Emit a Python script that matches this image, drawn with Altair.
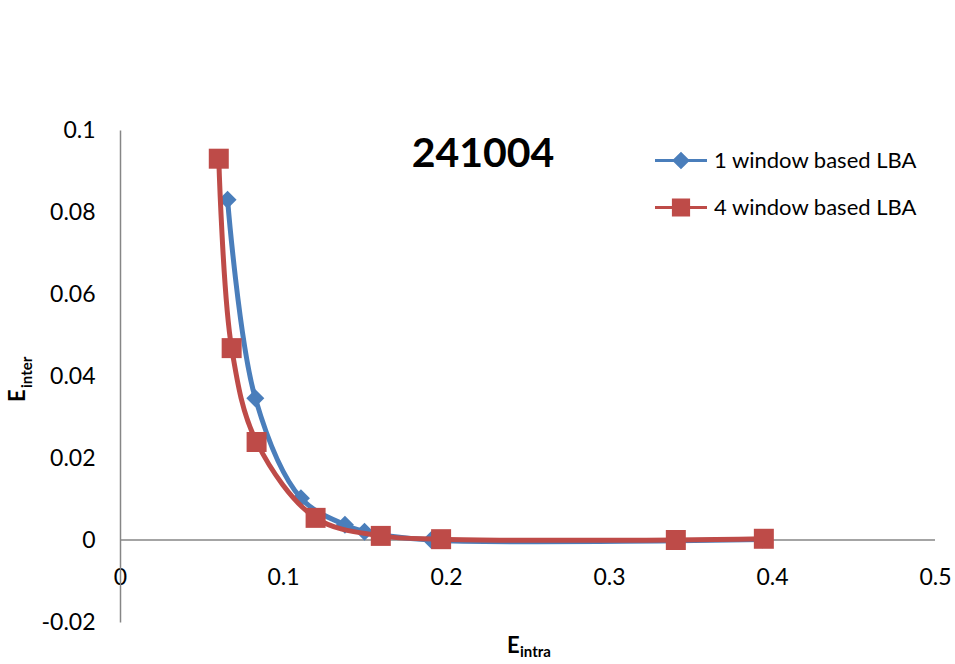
import altair as alt
import pandas as pd

# ---------------- data ----------------
series_names = ["1 window based LBA", "4 window based LBA"]
blue_x = [0.066, 0.083, 0.111, 0.138, 0.150, 0.191, 0.394]
blue_y = [0.083, 0.0346, 0.0102, 0.0037, 0.0020, 0.0000, 0.0001]
red_x = [0.0606, 0.0685, 0.0838, 0.120, 0.160, 0.197, 0.341, 0.395]
red_y = [0.093, 0.0468, 0.0239, 0.0054, 0.0010, 0.0002, 0.0000, 0.0003]
x_ticks = [0, 0.1, 0.2, 0.3, 0.4, 0.5]
y_ticks = [-0.02, 0, 0.02, 0.04, 0.06, 0.08, 0.1]
chart_title = "241004"

BLUE = "#4A7EBB"
RED = "#BE4B48"
AXIS = "#868686"
FONT = "Lato"

blue_df = pd.DataFrame({"x": blue_x, "y": blue_y, "series": series_names[0]})
red_df = pd.DataFrame({"x": red_x, "y": red_y, "series": series_names[1]})
all_df = pd.concat([blue_df, red_df], ignore_index=True)

xscale = alt.Scale(domain=[0, 0.5], nice=False, zero=False)
yscale = alt.Scale(domain=[-0.02, 0.1], nice=False, zero=False)

x_axis = alt.Axis(values=x_ticks, labelExpr="'' + datum.value", domain=False, ticks=False,
                  grid=False, offset=-56, labelPadding=0, labelFont=FONT, labelFontSize=23,
                  labelColor="black", labelFlush=False, labelOverlap=False, title=None)
y_axis = alt.Axis(values=y_ticks, labelExpr="'' + datum.value", domain=True, domainColor=AXIS,
                  domainWidth=1.5, ticks=False, grid=False, labelPadding=25, labelFont=FONT,
                  labelFontSize=23, labelColor="black", labelFlush=False, labelOverlap=False,
                  title=None)

X = alt.X("x:Q", scale=xscale, axis=x_axis)
Y = alt.Y("y:Q", scale=yscale, axis=y_axis)

zero_rule = alt.Chart(pd.DataFrame({"y": [0]})).mark_rule(color=AXIS, strokeWidth=1.5).encode(y=Y)

blue_line = alt.Chart(blue_df).mark_line(interpolate="catmull-rom", color=BLUE, strokeWidth=5).encode(x=X, y=Y)
blue_pts = alt.Chart(blue_df).mark_point(shape="diamond", filled=True, size=324, color=BLUE, opacity=1).encode(x=X, y=Y)
red_line = alt.Chart(red_df).mark_line(interpolate="catmull-rom", color=RED, strokeWidth=5).encode(x=X, y=Y)
red_pts = alt.Chart(red_df).mark_point(shape="square", filled=True, size=400, color=RED, opacity=1).encode(x=X, y=Y)

diamond_path = "M-1,-0.06H1V0.06H-1Z M0,-0.34L0.34,0L0,0.34L-0.34,0Z"
square_path = "M-1,-0.06H1V0.06H-1Z M-0.35,-0.35H0.35V0.35H-0.35Z"

leg = alt.Legend(title=None, orient="none", legendX=535, legendY=7, symbolSize=2704,
                 labelFont=FONT, labelFontSize=22, labelColor="black", labelOffset=7,
                 labelLimit=400, clipHeight=47, rowPadding=0, padding=0,
                 symbolStrokeWidth=0, symbolOpacity=1)

legend_layer = alt.Chart(all_df).transform_filter("datum.x < 0").mark_point(filled=True, opacity=1).encode(
    x=X, y=Y,
    color=alt.Color("series:N", scale=alt.Scale(domain=series_names, range=[BLUE, RED]), legend=leg),
    shape=alt.Shape("series:N", scale=alt.Scale(domain=series_names, range=[diamond_path, square_path]), legend=leg),
)

def label(txt, px, py, size, angle=0, bold=True):
    return alt.Chart(pd.DataFrame({"t": [txt]})).mark_text(
        font=FONT, fontSize=size, fontWeight="bold" if bold else "normal", color="black",
        align="left", baseline="alphabetic", angle=angle
    ).encode(x=alt.value(px), y=alt.value(py), text="t:N")

title_txt = alt.Chart(pd.DataFrame({"t": [chart_title]})).mark_text(
    font=FONT, fontSize=41, fontWeight="bold", color="black", align="center", baseline="alphabetic"
).encode(x=alt.value(363), y=alt.value(37), text="t:N")

y_E = label("E", -95, 272, 22, angle=270)
y_sub = label("inter", -88, 258, 15, angle=270)
x_E = label("E", 387, 523, 22)
x_sub = label("intra", 400, 527, 15)

chart = alt.layer(
    zero_rule, blue_line, blue_pts, red_line, red_pts, legend_layer,
    title_txt, y_E, y_sub, x_E, x_sub
).properties(
    width=815, height=492,
    autosize=alt.AutoSizeParams(type="none"),
    padding={"left": 120, "top": 130, "right": 20, "bottom": 42},
    background="white",
).configure_view(stroke=None)

chart.save("out.html", embed_options={"renderer": "svg", "actions": False})
